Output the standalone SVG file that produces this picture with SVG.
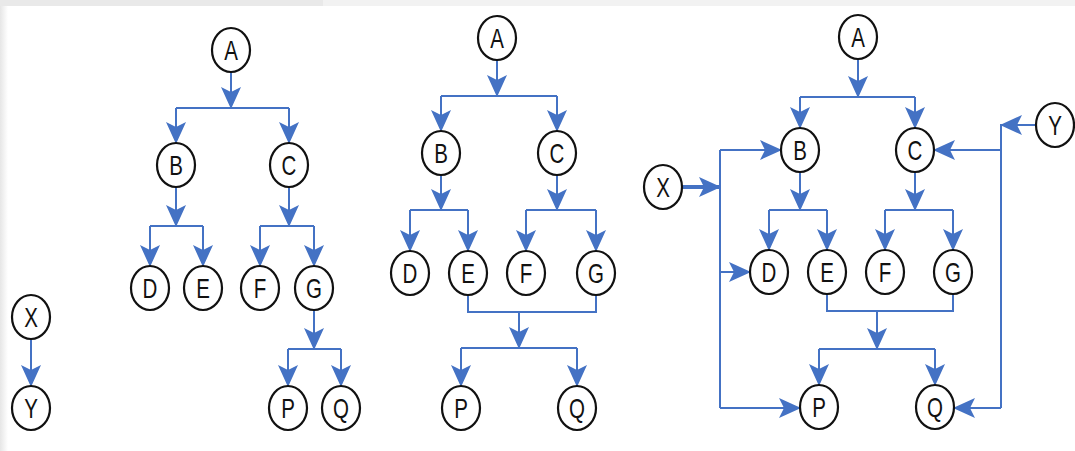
<svg xmlns="http://www.w3.org/2000/svg" width="1075" height="451" viewBox="0 0 1075 451">
  <defs>
    <marker id="arrow" markerUnits="userSpaceOnUse" markerWidth="22" markerHeight="20" viewBox="0 0 22 20" refX="21" refY="10" orient="auto">
      <path d="M0,0 L22,10 L0,20 L5,10 Z" fill="#4472c4"/>
    </marker>
    <linearGradient id="edge" x1="0" y1="0" x2="1" y2="0">
      <stop offset="0" stop-color="#e6e6e6"/>
      <stop offset="1" stop-color="#ffffff"/>
    </linearGradient>
  </defs>
  <style>
    .node ellipse { fill: #ffffff; stroke: #111111; stroke-width: 2.2; }
    .node text { font-family: "Liberation Sans", Arial, sans-serif; font-size: 27px; fill: #111111; text-anchor: middle; }
    .wire { fill: none; stroke: #4472c4; stroke-width: 2; }
    .wire.arr { marker-end: url(#arrow); }
    .wire.bold { stroke-width: 4; }
  </style>

  <!-- page background -->
  <rect x="0" y="0" width="1075" height="451" fill="#ffffff"/>
  <rect x="0" y="0" width="323" height="6" fill="#e9e9e9"/>
  <rect x="323" y="0" width="752" height="6" fill="#f2f2f2"/>
  <rect x="0" y="6" width="8" height="445" fill="url(#edge)"/>

  <!-- connectors -->
  <g id="connectors">
    <!-- left tree -->
    <path class="wire arr" d="M231,72 V108"/>
    <path class="wire" d="M176,108 H289"/>
    <path class="wire arr" d="M176,108 V143"/>
    <path class="wire arr" d="M289,108 V143"/>
    <path class="wire arr" d="M176,187 V226"/>
    <path class="wire" d="M150,226 H203"/>
    <path class="wire arr" d="M150,226 V266"/>
    <path class="wire arr" d="M203,226 V266"/>
    <path class="wire arr" d="M289,187 V226"/>
    <path class="wire" d="M260,226 H314"/>
    <path class="wire arr" d="M260,226 V266"/>
    <path class="wire arr" d="M314,226 V266"/>
    <path class="wire arr" d="M314,310 V349"/>
    <path class="wire" d="M288,349 H341"/>
    <path class="wire arr" d="M288,349 V386"/>
    <path class="wire arr" d="M341,349 V386"/>
    <path class="wire arr" d="M31,339 V386"/>

    <!-- middle tree -->
    <path class="wire arr" d="M497,60 V96"/>
    <path class="wire" d="M441,96 H557"/>
    <path class="wire arr" d="M441,96 V131"/>
    <path class="wire arr" d="M557,96 V131"/>
    <path class="wire arr" d="M441,175 V210"/>
    <path class="wire" d="M410,210 H468"/>
    <path class="wire arr" d="M410,210 V251"/>
    <path class="wire arr" d="M468,210 V251"/>
    <path class="wire arr" d="M557,175 V210"/>
    <path class="wire" d="M526,210 H596"/>
    <path class="wire arr" d="M526,210 V251"/>
    <path class="wire arr" d="M596,210 V251"/>
    <path class="wire" d="M468,295 V312 H596 V295"/>
    <path class="wire arr" d="M519,312 V348"/>
    <path class="wire" d="M461,348 H577"/>
    <path class="wire arr" d="M461,348 V386"/>
    <path class="wire arr" d="M577,348 V386"/>

    <!-- right tree -->
    <path class="wire arr" d="M858,59 V97"/>
    <path class="wire" d="M800,97 H915"/>
    <path class="wire arr" d="M800,97 V128"/>
    <path class="wire arr" d="M915,97 V128"/>
    <path class="wire arr" d="M800,172 V210"/>
    <path class="wire" d="M769,210 H827"/>
    <path class="wire arr" d="M769,210 V250"/>
    <path class="wire arr" d="M827,210 V250"/>
    <path class="wire arr" d="M915,172 V210"/>
    <path class="wire" d="M885,210 H953"/>
    <path class="wire arr" d="M885,210 V250"/>
    <path class="wire arr" d="M953,210 V250"/>
    <path class="wire" d="M827,294 V311 H953 V294"/>
    <path class="wire arr" d="M877,311 V349"/>
    <path class="wire" d="M819,349 H935"/>
    <path class="wire arr" d="M819,349 V385"/>
    <path class="wire arr" d="M935,349 V385"/>

    <!-- X feeds B, D, P -->
    <path class="wire bold arr" d="M682,187 H720"/>
    <path class="wire" d="M720,150 V408"/>
    <path class="wire arr" d="M720,150 H781"/>
    <path class="wire arr" d="M720,272 H750"/>
    <path class="wire arr" d="M720,408 H800"/>

    <!-- Y feeds C, Q -->
    <path class="wire arr" d="M1036,125 H1001"/>
    <path class="wire" d="M1001,124 V408"/>
    <path class="wire arr" d="M1001,150 H934"/>
    <path class="wire arr" d="M1001,408 H954"/>
  </g>

  <!-- left tree nodes -->
  <g id="t1-A" class="node"><ellipse cx="231" cy="50" rx="19" ry="22"/><text transform="translate(231,60) scale(0.76,1)">A</text></g>
  <g id="t1-B" class="node"><ellipse cx="176" cy="165" rx="19" ry="22"/><text transform="translate(176,175) scale(0.76,1)">B</text></g>
  <g id="t1-C" class="node"><ellipse cx="289" cy="165" rx="19" ry="22"/><text transform="translate(289,175) scale(0.76,1)">C</text></g>
  <g id="t1-D" class="node"><ellipse cx="150" cy="288" rx="19" ry="22"/><text transform="translate(150,298) scale(0.76,1)">D</text></g>
  <g id="t1-E" class="node"><ellipse cx="203" cy="288" rx="19" ry="22"/><text transform="translate(203,298) scale(0.76,1)">E</text></g>
  <g id="t1-F" class="node"><ellipse cx="260" cy="288" rx="19" ry="22"/><text transform="translate(260,298) scale(0.76,1)">F</text></g>
  <g id="t1-G" class="node"><ellipse cx="314" cy="288" rx="19" ry="22"/><text transform="translate(314,298) scale(0.76,1)">G</text></g>
  <g id="t1-P" class="node"><ellipse cx="288" cy="408" rx="19" ry="22"/><text transform="translate(288,418) scale(0.76,1)">P</text></g>
  <g id="t1-Q" class="node"><ellipse cx="341" cy="408" rx="19" ry="22"/><text transform="translate(341,418) scale(0.76,1)">Q</text></g>
  <g id="t1-X" class="node"><ellipse cx="31" cy="317" rx="19" ry="22"/><text transform="translate(31,327) scale(0.76,1)">X</text></g>
  <g id="t1-Y" class="node"><ellipse cx="31" cy="408" rx="19" ry="22"/><text transform="translate(31,418) scale(0.76,1)">Y</text></g>

  <!-- middle tree nodes -->
  <g id="t2-A" class="node"><ellipse cx="497" cy="38" rx="19" ry="22"/><text transform="translate(497,48) scale(0.76,1)">A</text></g>
  <g id="t2-B" class="node"><ellipse cx="441" cy="153" rx="19" ry="22"/><text transform="translate(441,163) scale(0.76,1)">B</text></g>
  <g id="t2-C" class="node"><ellipse cx="557" cy="153" rx="19" ry="22"/><text transform="translate(557,163) scale(0.76,1)">C</text></g>
  <g id="t2-D" class="node"><ellipse cx="410" cy="273" rx="19" ry="22"/><text transform="translate(410,283) scale(0.76,1)">D</text></g>
  <g id="t2-E" class="node"><ellipse cx="468" cy="273" rx="19" ry="22"/><text transform="translate(468,283) scale(0.76,1)">E</text></g>
  <g id="t2-F" class="node"><ellipse cx="526" cy="273" rx="19" ry="22"/><text transform="translate(526,283) scale(0.76,1)">F</text></g>
  <g id="t2-G" class="node"><ellipse cx="596" cy="273" rx="19" ry="22"/><text transform="translate(596,283) scale(0.76,1)">G</text></g>
  <g id="t2-P" class="node"><ellipse cx="461" cy="408" rx="19" ry="22"/><text transform="translate(461,418) scale(0.76,1)">P</text></g>
  <g id="t2-Q" class="node"><ellipse cx="577" cy="408" rx="19" ry="22"/><text transform="translate(577,418) scale(0.76,1)">Q</text></g>

  <!-- right tree nodes -->
  <g id="t3-A" class="node"><ellipse cx="858" cy="37" rx="19" ry="22"/><text transform="translate(858,47) scale(0.76,1)">A</text></g>
  <g id="t3-B" class="node"><ellipse cx="800" cy="150" rx="19" ry="22"/><text transform="translate(800,160) scale(0.76,1)">B</text></g>
  <g id="t3-C" class="node"><ellipse cx="915" cy="150" rx="19" ry="22"/><text transform="translate(915,160) scale(0.76,1)">C</text></g>
  <g id="t3-D" class="node"><ellipse cx="769" cy="272" rx="19" ry="22"/><text transform="translate(769,282) scale(0.76,1)">D</text></g>
  <g id="t3-E" class="node"><ellipse cx="827" cy="272" rx="19" ry="22"/><text transform="translate(827,282) scale(0.76,1)">E</text></g>
  <g id="t3-F" class="node"><ellipse cx="885" cy="272" rx="19" ry="22"/><text transform="translate(885,282) scale(0.76,1)">F</text></g>
  <g id="t3-G" class="node"><ellipse cx="953" cy="272" rx="19" ry="22"/><text transform="translate(953,282) scale(0.76,1)">G</text></g>
  <g id="t3-P" class="node"><ellipse cx="819" cy="407" rx="19" ry="22"/><text transform="translate(819,417) scale(0.76,1)">P</text></g>
  <g id="t3-Q" class="node"><ellipse cx="935" cy="407" rx="19" ry="22"/><text transform="translate(935,417) scale(0.76,1)">Q</text></g>
  <g id="t3-X" class="node"><ellipse cx="663" cy="187" rx="19" ry="22"/><text transform="translate(663,197) scale(0.76,1)">X</text></g>
  <g id="t3-Y" class="node"><ellipse cx="1055" cy="125" rx="19" ry="22"/><text transform="translate(1055,135) scale(0.76,1)">Y</text></g>
</svg>
